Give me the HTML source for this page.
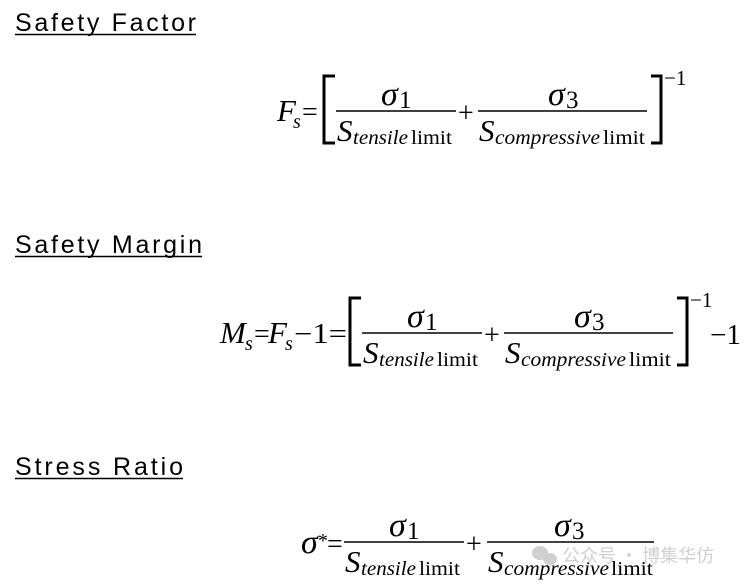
<!DOCTYPE html>
<html><head><meta charset="utf-8"><style>
html,body{margin:0;padding:0;background:#fff;width:752px;height:586px;overflow:hidden}
svg{display:block}
.h{font-family:"Liberation Sans",sans-serif;font-size:25px;fill:#000}
.m{font-family:"Liberation Serif",serif;fill:#000}
.i{font-style:italic}
</style></head><body>
<svg width="752" height="586" viewBox="0 0 752 586" xmlns="http://www.w3.org/2000/svg">
<g class="h">
<text x="15" y="31" textLength="181" lengthAdjust="spacing">Safety Factor</text>
<text x="15" y="253" textLength="187" lengthAdjust="spacing">Safety Margin</text>
<text x="15" y="475" textLength="168" lengthAdjust="spacing">Stress Ratio</text>
</g>
<g stroke="#000" stroke-width="1.6">
<line x1="15" y1="34.5" x2="196" y2="34.5"/>
<line x1="15" y1="256.5" x2="202" y2="256.5"/>
<line x1="15" y1="478.5" x2="183" y2="478.5"/>
</g>

<!-- Formula 1 -->
<g class="m">
<text x="277" y="121" class="i" font-size="31">F</text>
<text x="293" y="128" class="i" font-size="20">s</text>
<text x="302" y="121" font-size="28">=</text>
</g>
<g id="body1">
<polyline points="335,76 324,76 324,143 335,143" fill="none" stroke="#000" stroke-width="3"/>
<g class="m">
<text x="381" y="105" class="i" font-size="34">σ</text>
<text x="399" y="108" font-size="25">1</text>
<text x="337" y="141" class="i" font-size="31">S</text>
<text x="353" y="144" class="i" font-size="20" textLength="55" lengthAdjust="spacingAndGlyphs">tensile</text>
<text x="411" y="144" font-size="20" textLength="41" lengthAdjust="spacingAndGlyphs">limit</text>
<text x="458" y="122" font-size="28">+</text>
<text x="548" y="105" class="i" font-size="34">σ</text>
<text x="566" y="108" font-size="25">3</text>
<text x="479" y="141" class="i" font-size="31">S</text>
<text x="495" y="144" class="i" font-size="20" textLength="105" lengthAdjust="spacingAndGlyphs">compressive</text>
<text x="603" y="144" font-size="20" textLength="42" lengthAdjust="spacingAndGlyphs">limit</text>
<text x="664" y="85" font-size="21">−1</text>
</g>
<line x1="336" y1="111" x2="456" y2="111" stroke="#000" stroke-width="1.6"/>
<line x1="478" y1="111" x2="647" y2="111" stroke="#000" stroke-width="1.6"/>
<polyline points="651,76 661,76 661,143 651,143" fill="none" stroke="#000" stroke-width="3"/>
</g>

<!-- Formula 2 -->
<g class="m">
<text x="220" y="343" class="i" font-size="31">M</text>
<text x="245" y="350" class="i" font-size="20">s</text>
<text x="254" y="343" font-size="28">=</text>
<text x="268" y="343" class="i" font-size="31">F</text>
<text x="285" y="350" class="i" font-size="20">s</text>
<text x="294" y="343" font-size="28" textLength="53" lengthAdjust="spacingAndGlyphs">−1=</text>
<text x="710" y="344" font-size="28" textLength="31" lengthAdjust="spacingAndGlyphs">−1</text>
</g>
<use href="#body1" transform="translate(26,222)"/>

<!-- Formula 3 -->
<g class="m">
<text x="301" y="553" class="i" font-size="34">σ</text>
<text x="318" y="547" font-size="20">*</text>
<text x="327" y="553" font-size="28">=</text>
<text x="389" y="536" class="i" font-size="34">σ</text>
<text x="407" y="539" font-size="25">1</text>
<text x="345" y="572" class="i" font-size="31">S</text>
<text x="361" y="575" class="i" font-size="20" textLength="55" lengthAdjust="spacingAndGlyphs">tensile</text>
<text x="419" y="575" font-size="20" textLength="41" lengthAdjust="spacingAndGlyphs">limit</text>
<text x="466" y="553" font-size="28">+</text>
<text x="554" y="536" class="i" font-size="34">σ</text>
<text x="572" y="539" font-size="25">3</text>
<text x="488" y="572" class="i" font-size="31">S</text>
<text x="504" y="575" class="i" font-size="20" textLength="105" lengthAdjust="spacingAndGlyphs">compressive</text>
<text x="611" y="575" font-size="20" textLength="42" lengthAdjust="spacingAndGlyphs">limit</text>
</g>
<line x1="344" y1="542" x2="464" y2="542" stroke="#000" stroke-width="1.6"/>
<line x1="487" y1="542" x2="654" y2="542" stroke="#000" stroke-width="1.6"/>

<!-- watermark -->
<g fill="#c8c8c8" opacity="0.85">
<ellipse cx="540" cy="553" rx="8" ry="7"/>
<ellipse cx="550" cy="559" rx="7" ry="6"/>
<text x="562" y="562" font-family="'Noto Sans CJK SC',sans-serif" font-size="18">公众号 · 博集华仿</text>
</g>
</svg>
</body></html>
